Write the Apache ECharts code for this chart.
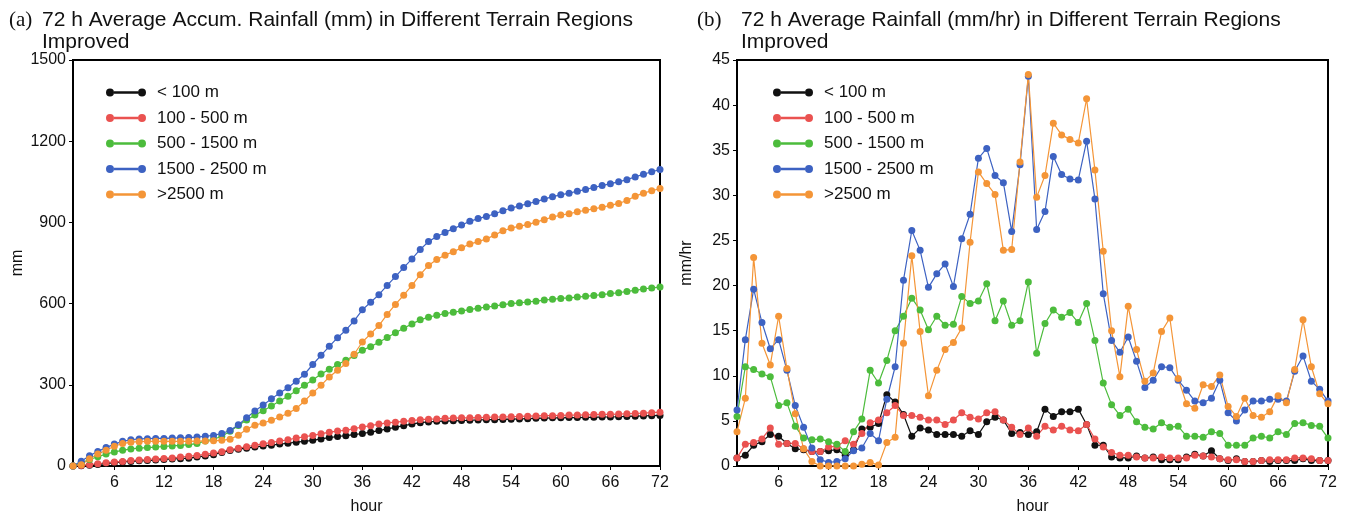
<!DOCTYPE html>
<html>
<head>
<meta charset="utf-8">
<script src="https://cdn.jsdelivr.net/npm/echarts@6/dist/echarts.min.js"></script>
<style>
  html, body { margin: 0; padding: 0; background: #fff; }
  #chart { width: 1351px; height: 520px; }
</style>
</head>
<body>
<div id="chart"></div>
<script>
// hours 1..72 on both panels
const hours = []
for (let h = 1; h <= 72; h++) hours.push(String(h))

const names = ['< 100 m', '100 - 500 m', '500 - 1500 m', '1500 - 2500 m', '>2500 m']
const colors = ['#111111', '#ea5250', '#4cbc3c', '#3d62c2', '#f49537']

// (a) accumulated rainfall (mm)
const accBelow100 = [0, 1, 3, 6, 9, 12, 15, 17, 19, 20, 22, 24, 26, 27, 29, 33, 37, 42, 50, 57,
  62, 66, 70, 74, 77, 81, 84, 88, 91, 95, 100, 105, 109, 112, 116, 120, 125, 131, 137, 143,
  149, 155, 160, 163, 165, 166, 167, 168, 169, 170, 171, 171, 172, 173, 174, 175, 176, 177, 178, 178,
  179, 179, 180, 180, 181, 181, 182, 183, 184, 185, 186, 187]
const acc100to500 = [0, 2, 5, 8, 12, 15, 17, 20, 22, 24, 26, 28, 30, 33, 36, 39, 43, 48, 53, 60,
  66, 71, 77, 82, 87, 92, 97, 103, 108, 113, 119, 125, 129, 132, 138, 144, 149, 155, 159, 162,
  165, 168, 171, 173, 174, 176, 177, 178, 178, 179, 180, 181, 181, 182, 183, 184, 185, 186, 186, 187,
  188, 188, 189, 190, 191, 191, 192, 193, 194, 195, 197, 199]
const acc500to1500 = [0, 12, 24, 34, 44, 52, 58, 63, 66, 68, 70, 72, 74, 76, 79, 83, 92, 99, 110, 128,
  150, 170, 188, 204, 222, 240, 258, 278, 298, 318, 340, 357, 375, 391, 408, 428, 441, 457, 475, 492,
  509, 525, 540, 550, 557, 563, 568, 573, 578, 583, 587, 591, 596, 600, 603, 606, 609, 613, 616, 619,
  621, 624, 627, 630, 633, 637, 640, 645, 649, 654, 658, 661]
const acc1500to2500 = [0, 18, 38, 54, 68, 81, 91, 97, 100, 101, 102, 102, 103, 104, 105, 107, 110, 113, 120, 131,
  152, 178, 203, 225, 248, 270, 289, 313, 339, 375, 409, 442, 474, 502, 536, 577, 605, 633, 667, 700,
  733, 765, 800, 829, 848, 863, 877, 890, 904, 914, 922, 932, 943, 953, 961, 969, 977, 986, 995, 1002,
  1008, 1015, 1022, 1029, 1036, 1043, 1050, 1058, 1068, 1078, 1087, 1095]
const accAbove2500 = [0, 5, 27, 44, 58, 73, 83, 88, 90, 91, 91, 91, 91, 91, 91, 92, 92, 93, 95, 99,
  114, 136, 151, 159, 169, 181, 195, 212, 240, 270, 298, 329, 354, 379, 413, 458, 488, 519, 560, 597,
  631, 667, 707, 741, 763, 779, 792, 806, 820, 829, 839, 853, 869, 879, 886, 892, 901, 910, 920, 927,
  932, 939, 945, 950, 956, 963, 970, 981, 997, 1008, 1017, 1025]

// (b) average rainfall rate (mm/hr)
const rateBelow100 = [0.9, 1.2, 2.3, 2.7, 3.5, 3.3, 2.5, 1.9, 1.8, 1.6, 1.6, 1.7, 1.8, 1.2, 1.8, 4.1, 4.3, 4.7, 7.9, 7.1,
  5.7, 3.3, 4.2, 4.0, 3.5, 3.5, 3.5, 3.3, 3.9, 3.5, 4.9, 5.4, 5.1, 3.6, 3.7, 3.5, 3.8, 6.3, 5.5, 6.0,
  6.0, 6.3, 4.6, 2.3, 2.3, 1.0, 0.9, 0.9, 1.1, 0.9, 1.0, 0.7, 0.7, 0.7, 1.0, 1.3, 1.1, 1.7, 0.8, 0.6,
  0.8, 0.5, 0.5, 0.6, 0.5, 0.6, 0.6, 0.6, 0.8, 0.6, 0.6, 0.6]
const rate100to500 = [0.9, 2.4, 2.6, 3.0, 4.2, 2.4, 2.5, 2.5, 1.9, 1.6, 1.6, 2.1, 2.2, 2.8, 2.4, 3.6, 4.8, 5.1, 5.9, 6.7,
  5.6, 5.6, 5.4, 5.1, 5.1, 4.6, 5.1, 5.9, 5.4, 5.2, 5.9, 6.0, 5.1, 4.3, 3.5, 4.2, 3.3, 4.4, 4.0, 4.4,
  4.0, 3.9, 4.6, 3.0, 2.1, 1.5, 1.2, 1.2, 1.0, 0.9, 0.9, 1.0, 0.9, 0.9, 0.9, 1.2, 1.1, 1.0, 0.8, 0.7,
  0.7, 0.5, 0.5, 0.6, 0.7, 0.7, 0.7, 0.9, 0.9, 0.8, 0.6, 0.6]
const rate500to1500 = [5.5, 11.0, 10.7, 10.2, 9.9, 6.7, 7.0, 4.4, 3.1, 2.9, 3.0, 2.7, 2.4, 1.6, 3.8, 5.2, 10.6, 9.2, 11.7, 15.0,
  16.6, 18.6, 17.3, 15.1, 16.6, 15.6, 15.7, 18.8, 18.0, 18.3, 20.2, 16.1, 18.3, 15.6, 16.1, 20.4, 12.5, 15.8, 17.3, 16.5,
  17.0, 15.9, 18.0, 13.9, 9.2, 6.8, 5.6, 6.3, 4.9, 4.3, 4.1, 4.8, 4.3, 4.4, 3.3, 3.3, 3.2, 3.8, 3.6, 2.3,
  2.3, 2.3, 3.1, 3.3, 3.1, 3.8, 3.5, 4.7, 4.8, 4.5, 4.4, 3.1]
const rate1500to2500 = [6.2, 14.0, 19.6, 15.9, 13.0, 14.0, 10.6, 6.7, 4.3, 2.0, 0.7, 0.4, 0.5, 0.8, 1.7, 2.0, 3.6, 2.8, 7.4, 11.0,
  20.6, 26.1, 23.9, 19.8, 21.3, 22.4, 19.9, 25.2, 27.9, 34.1, 35.2, 32.2, 31.4, 26.0, 33.4, 43.2, 26.2, 28.2, 34.3, 32.3,
  31.8, 31.7, 36.0, 29.6, 19.1, 13.9, 12.6, 14.3, 11.6, 8.7, 9.5, 11.0, 10.9, 9.5, 8.4, 7.2, 7.0, 7.5, 9.5, 5.9,
  5.0, 6.2, 7.2, 7.2, 7.4, 7.4, 7.2, 10.5, 12.2, 9.4, 8.5, 7.2]
const rateAbove2500 = [3.8, 7.5, 23.1, 13.6, 11.2, 16.6, 10.8, 5.8, 1.9, 0.5, 0, 0, 0, 0, 0, 0.2, 0.4, 0.1, 2.6, 3.2,
  13.6, 23.3, 14.9, 7.8, 10.6, 12.9, 13.7, 15.3, 24.8, 32.6, 31.3, 30.1, 23.9, 24.0, 33.7, 43.4, 29.8, 32.2, 38.0, 36.7,
  36.2, 35.8, 40.7, 32.8, 23.8, 15.0, 9.9, 17.7, 12.9, 9.4, 10.3, 14.9, 16.4, 9.7, 6.9, 6.4, 9.0, 8.8, 10.1, 6.6,
  5.5, 7.5, 5.6, 5.4, 6.0, 7.8, 7.0, 10.7, 16.2, 11.0, 8.0, 6.9]

const accData = [accBelow100, acc100to500, acc500to1500, acc1500to2500, accAbove2500]
const rateData = [rateBelow100, rate100to500, rate500to1500, rate1500to2500, rateAbove2500]

const fontSans = 'Liberation Sans, Arial, sans-serif'
const fontSerif = 'Liberation Serif, Times New Roman, serif'

// line with a dot at each end, like the legend in the figure
const dumbbell = 'path://M0,4a4,4 0 1,1 8,0a4,4 0 1,1 -8,0Z M32,4a4,4 0 1,1 8,0a4,4 0 1,1 -8,0Z M8,2.8L32,2.8L32,5.2L8,5.2Z'

const makeXAxis = (gridIndex) => ({
  type: 'category',
  gridIndex,
  data: hours,
  boundaryGap: false,
  name: 'hour',
  nameLocation: 'middle',
  nameGap: 33,
  nameTextStyle: { color: '#111', fontSize: 16, fontFamily: fontSans },
  axisLine: { lineStyle: { color: '#000', width: 2 } },
  axisTick: {
    inside: false,
    length: 4,
    interval: (i, v) => Number(v) % 6 === 0,
    lineStyle: { color: '#000', width: 1 },
  },
  axisLabel: {
    interval: (i, v) => Number(v) % 6 === 0,
    color: '#111',
    fontSize: 16,
    fontFamily: fontSans,
    margin: 9,
  },
  splitLine: { show: false },
})

const makeYAxis = (gridIndex, name, max, interval, nameGap) => ({
  type: 'value',
  gridIndex,
  min: 0,
  max,
  interval,
  name,
  nameLocation: 'middle',
  nameGap,
  nameRotate: 90,
  nameTextStyle: { color: '#111', fontSize: 16, fontFamily: fontSans },
  axisLine: { show: true, lineStyle: { color: '#000', width: 2 } },
  axisTick: { show: true, inside: false, length: 4, lineStyle: { color: '#000', width: 1 } },
  axisLabel: { color: '#111', fontSize: 16, fontFamily: fontSans, margin: 7, formatter: (v) => String(v) },
  splitLine: { show: false },
})

const makeLegend = (left) => ({
  data: names,
  orient: 'vertical',
  left,
  top: 79,
  icon: dumbbell,
  itemWidth: 40,
  itemHeight: 8,
  itemGap: 8.5,
  selectedMode: false,
  textStyle: { color: '#111', fontSize: 17, fontFamily: fontSans, lineHeight: 17, padding: [0, 0, 0, 6] },
})

const makeSeries = (name, i, axisIndex, data) => ({
  name,
  type: 'line',
  xAxisIndex: axisIndex,
  yAxisIndex: axisIndex,
  data,
  symbol: 'circle',
  symbolSize: 7,
  showAllSymbol: true,
  color: colors[i],
  lineStyle: { width: 1.2 },
  animation: false,
})

const series = []
names.forEach((name, i) => series.push(makeSeries(name, i, 0, accData[i])))
names.forEach((name, i) => series.push(makeSeries(name, i, 1, rateData[i])))

const chart = echarts.init(document.getElementById('chart'), null, { renderer: 'canvas' })

chart.setOption({
  backgroundColor: '#fff',
  animation: false,
  title: [
    { text: '(a)', left: 4, top: 5, textStyle: { fontFamily: fontSerif, fontSize: 21, fontWeight: 'normal', color: '#111' } },
    {
      text: '72 h Average Accum. Rainfall (mm) in Different Terrain Regions\nImproved',
      left: 37, top: 4,
      textStyle: { fontFamily: fontSans, fontSize: 21, fontWeight: 'normal', color: '#111', lineHeight: 22 },
    },
    { text: '(b)', left: 692, top: 5, textStyle: { fontFamily: fontSerif, fontSize: 21, fontWeight: 'normal', color: '#111' } },
    {
      text: '72 h Average Rainfall (mm/hr) in Different Terrain Regions\nImproved',
      left: 736, top: 4,
      textStyle: { fontFamily: fontSans, fontSize: 21, fontWeight: 'normal', color: '#111', lineHeight: 22 },
    },
  ],
  legend: [makeLegend(101), makeLegend(768)],
  grid: [
    { left: 73, top: 60, width: 587, height: 410, show: true, borderColor: '#000', borderWidth: 2, backgroundColor: 'transparent' },
    { left: 737, top: 60, width: 591, height: 411, show: true, borderColor: '#000', borderWidth: 2, backgroundColor: 'transparent' },
  ],
  xAxis: [makeXAxis(0), makeXAxis(1)],
  yAxis: [makeYAxis(0, 'mm', 1500, 300, 47), makeYAxis(1, 'mm/hr', 45, 5, 42)],
  series,
})
</script>
</body>
</html>
